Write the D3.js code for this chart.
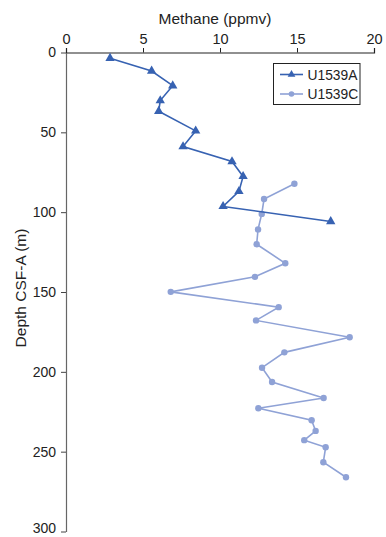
<!DOCTYPE html>
<html><head><meta charset="utf-8">
<script src="https://cdn.jsdelivr.net/npm/d3@7"></script>
<style>body{margin:0;background:#fff}svg{display:block;font-family:"Liberation Sans",Arial,sans-serif}</style>
</head><body><svg id="c" width="386" height="537"></svg>
<script>
const seriesNames = ["U1539A", "U1539C"];
const depthA = [3.6, 11.6, 20.8, 30.1, 36.8, 49.1, 58.9, 68.3, 77.6, 87.0, 96.4, 105.8];
const methaneA = [2.86, 5.56, 6.93, 6.12, 6.02, 8.42, 7.60, 10.78, 11.50, 11.23, 10.20, 17.19];
const depthC = [82.2, 91.8, 101.1, 110.8, 120.1, 132.0, 140.5, 149.9, 159.5, 167.8, 178.3, 187.8, 197.4, 206.4, 216.4, 222.8, 230.3, 237.0, 242.8, 247.2, 256.6, 266.0];
const methaneC = [14.83, 12.86, 12.71, 12.47, 12.38, 14.24, 12.27, 6.80, 13.81, 12.34, 18.42, 14.18, 12.73, 13.38, 16.73, 12.49, 15.95, 16.21, 15.47, 16.86, 16.71, 18.18];
const xTicks = [0, 5, 10, 15, 20];
const yTicks = [0, 50, 100, 150, 200, 250, 300];
const xTitle = "Methane (ppmv)";
const yTitle = "Depth CSF-A (m)";

const colA = "#3762b2", colC = "#8fa2d6";
const svg = d3.select("#c");
const x = d3.scaleLinear().domain([0, 20]).range([66, 374]);
const y = d3.scaleLinear().domain([0, 300]).range([52.5, 531.5]);

const gx = svg.append("g").attr("transform", `translate(0,${y(0)})`)
  .call(d3.axisTop(x).tickValues(xTicks).tickSize(4.5).tickSizeOuter(4.5).tickPadding(4.5));
gx.select(".domain").attr("stroke", "#222").attr("stroke-width", 1.2);
gx.selectAll(".tick line").attr("stroke", "#222");
gx.selectAll("text").attr("font-size", 14.5).attr("fill", "#222").attr("font-family", "Liberation Sans, Arial, sans-serif");

const gy = svg.append("g").attr("transform", `translate(${x(0)},0)`)
  .call(d3.axisLeft(y).tickValues(yTicks).tickSize(5).tickSizeOuter(0).tickPadding(5));
gy.select(".domain").attr("stroke", "#666").attr("stroke-width", 1.2);
gy.selectAll(".tick line").attr("stroke", "#444");
gy.selectAll("text").attr("font-size", 14).attr("fill", "#222").attr("font-family", "Liberation Sans, Arial, sans-serif");
gy.selectAll(".tick text").filter(d => d === 300).attr("dy", "0.1em");

svg.append("text").attr("x", 215).attr("y", 23.5).attr("text-anchor", "middle")
  .attr("font-size", 15.5).attr("fill", "#222").text(xTitle);
svg.append("text").attr("transform", `translate(25.5,288) rotate(-90)`).attr("text-anchor", "middle")
  .attr("font-size", 15.5).attr("fill", "#222").text(yTitle);

const line = d3.line().x(d => x(d[0])).y(d => y(d[1]));
const dataA = methaneA.map((v, i) => [v, depthA[i]]);
const dataC = methaneC.map((v, i) => [v, depthC[i]]);

svg.append("path").datum(dataC).attr("d", line).attr("fill", "none").attr("stroke", colC).attr("stroke-width", 1.6);
svg.selectAll(".pc").data(dataC).join("circle").attr("cx", d => x(d[0])).attr("cy", d => y(d[1])).attr("r", 3.2).attr("fill", colC);

svg.append("path").datum(dataA).attr("d", line).attr("fill", "none").attr("stroke", colA).attr("stroke-width", 1.6);
const tri = d3.symbol().type(d3.symbolTriangle).size(38);
svg.selectAll(".pa").data(dataA).join("path").attr("d", tri)
  .attr("transform", d => `translate(${x(d[0])},${y(d[1])})`).attr("fill", colA);

// legend
const lg = svg.append("g");
lg.append("rect").attr("x", 273.5).attr("y", 63.5).attr("width", 86.5).attr("height", 41)
  .attr("fill", "#fff").attr("stroke", "#222").attr("stroke-width", 1);
const rows = [{name: seriesNames[0], c: colA, sym: "tri", yy: 74.5}, {name: seriesNames[1], c: colC, sym: "cir", yy: 94}];
rows.forEach(r => {
  lg.append("line").attr("x1", 280).attr("x2", 303).attr("y1", r.yy).attr("y2", r.yy).attr("stroke", r.c).attr("stroke-width", 1.6);
  if (r.sym === "tri") lg.append("path").attr("d", d3.symbol().type(d3.symbolTriangle).size(26)).attr("transform", `translate(291.5,${r.yy})`).attr("fill", r.c);
  else lg.append("circle").attr("cx", 291.5).attr("cy", r.yy).attr("r", 2.8).attr("fill", r.c);
  lg.append("text").attr("x", 307.5).attr("y", r.yy + 5).attr("font-size", 13.8).attr("fill", "#222").text(r.name);
});
</script></body></html>
